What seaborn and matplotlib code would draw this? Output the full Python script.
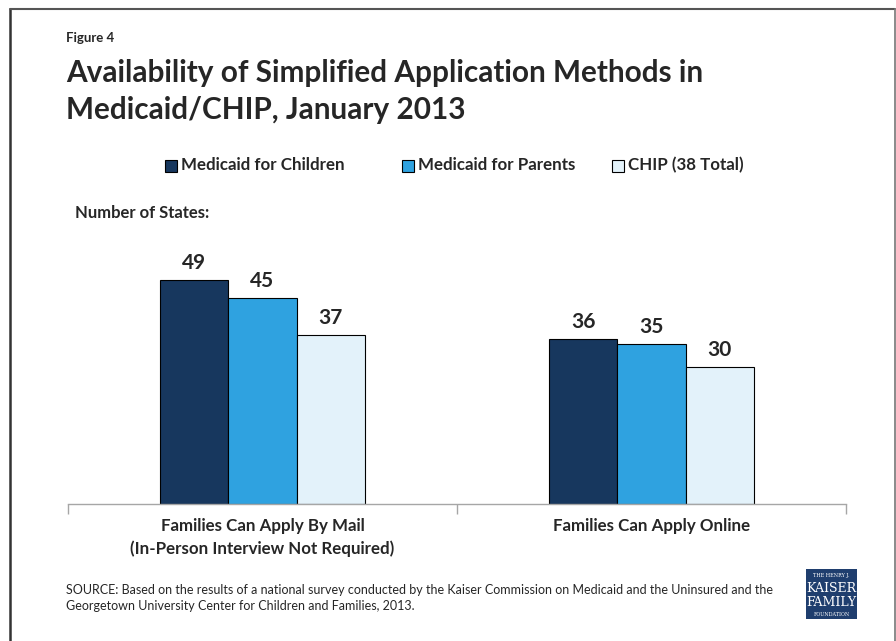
import matplotlib
matplotlib.use("Agg")
import matplotlib.pyplot as plt
import seaborn as sns
import pandas as pd
from matplotlib.patches import Rectangle
from matplotlib.lines import Line2D

categories = ["Families Can Apply By Mail\n(In-Person Interview Not Required)", "Families Can Apply Online"]
series = ["Medicaid for Children", "Medicaid for Parents", "CHIP (38 Total)"]
children = [49, 36]
parents = [45, 35]
chip = [37, 30]
colors = ["#17375E", "#2FA2E0", "#E3F2FA"]

rows = []
for s, vals in zip(series, [children, parents, chip]):
    for c, v in zip(categories, vals):
        rows.append({"category": c, "series": s, "value": v})
df = pd.DataFrame(rows)

sns.set_theme(style="white")
FONT = ["Lato", "DejaVu Sans"]
plt.rcParams["font.family"] = FONT

W, H = 896, 641
fig = plt.figure(figsize=(W / 100, H / 100), dpi=100)
fig.patch.set_facecolor("white")

def fx(x): return x / W
def fy(y): return 1 - y / H

ax = fig.add_axes([fx(68), fy(504), fx(846) - fx(68), fy(250) - fy(504)])
sns.barplot(data=df, x="category", y="value", hue="series", order=categories,
            hue_order=series, palette=colors, width=0.525, edgecolor="black",
            linewidth=0.8, saturation=1, ax=ax, legend=False)
ax.set_xlim(-0.5, 1.5)
ax.set_ylim(0, (504 - 250) / ((504 - 280) / 49))
ax.set_xlabel("")
ax.set_ylabel("")
ax.set_yticks([])
for side in ["top", "right", "left"]:
    ax.spines[side].set_visible(False)
ax.spines["bottom"].set_color("#A6A6A6")
ax.spines["bottom"].set_linewidth(1.0)
ax.set_xticks([-0.5, 0.5, 1.5])
ax.set_xticklabels(["", "", ""])
ax.tick_params(axis="x", which="major", bottom=True, length=7, color="#A6A6A6", width=1.0, direction="out")
ax.set_xticks([0, 1], minor=True)
ax.set_xticklabels(categories, minor=True, fontsize=12.2, fontweight="bold", linespacing=1.45)
ax.tick_params(axis="x", which="minor", length=0, pad=10)

for cont in ax.containers:
    ax.bar_label(cont, fmt="%d", padding=5, fontsize=15, fontweight="bold")

# Titles
fig.text(fx(66), fy(38), "Figure 4", fontsize=9.5, fontweight="bold", va="center", ha="left")
fig.text(fx(66), fy(73), "Availability of Simplified Application Methods in", fontsize=21.4,
         fontweight="bold", va="center", ha="left")
fig.text(fx(66), fy(110), "Medicaid/CHIP, January 2013", fontsize=21.4,
         fontweight="bold", va="center", ha="left")

# Legend
leg_x = [165, 402, 612]
for x, s, c in zip(leg_x, series, colors):
    fig.patches.append(Rectangle((fx(x), fy(172)), fx(12), 12 / H, transform=fig.transFigure,
                                 facecolor=c, edgecolor="black", linewidth=0.8))
    fig.text(fx(x + 16), fy(165), s, fontsize=12.2, fontweight="bold", va="center", ha="left")

fig.text(fx(75), fy(213), "Number of States:", fontsize=12, fontweight="bold", va="center", ha="left")

# Source
fig.text(fx(66), fy(598),
         "SOURCE: Based on the results of a national survey conducted by the Kaiser Commission on Medicaid and the Uninsured and the\nGeorgetown University Center for Children and Families, 2013.",
         fontsize=9, va="center", ha="left", linespacing=1.45)

# Logo
fig.patches.append(Rectangle((fx(806), fy(619)), fx(51), 50 / H, transform=fig.transFigure,
                             facecolor="#1F3E6E", edgecolor="none"))
fig.text(fx(831.5), fy(575), "THE HENRY J.", fontsize=3.5, color="white", ha="center", va="center", family="DejaVu Serif")
fig.text(fx(831.5), fy(588), "KAISER", fontsize=9, color="white", ha="center", va="center", family="DejaVu Serif")
fig.text(fx(831.5), fy(603), "FAMILY", fontsize=9, color="white", ha="center", va="center", family="DejaVu Serif")
fig.text(fx(831.5), fy(614), "FOUNDATION", fontsize=3.5, color="white", ha="center", va="center", family="DejaVu Serif")

# Frame (left, top, right; open at bottom)
fig.lines.append(Line2D([fx(9.5), fx(9.5)], [fy(8.5), fy(645)], transform=fig.transFigure,
                        color="#333333", linewidth=1.8))
fig.lines.append(Line2D([fx(9.5), fx(894.5)], [fy(8.5), fy(8.5)], transform=fig.transFigure,
                        color="#555555", linewidth=1.5))
fig.lines.append(Line2D([fx(894.5), fx(894.5)], [fy(8.5), fy(645)], transform=fig.transFigure,
                        color="#777777", linewidth=1.2))

fig.savefig("out.png", dpi=100)
